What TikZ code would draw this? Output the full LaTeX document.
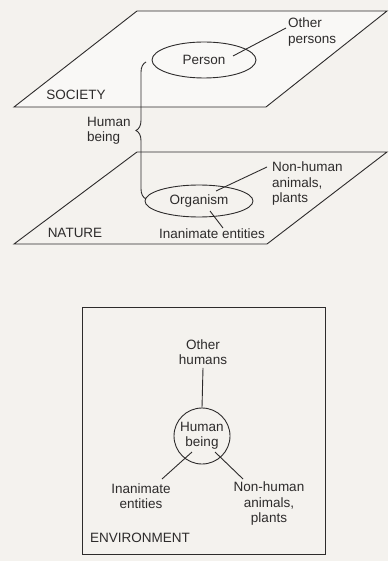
\documentclass[tikz,border=0pt]{standalone}
\usepackage{fontspec}
\setmainfont{Liberation Sans}
\usetikzlibrary{shapes.geometric,decorations.pathreplacing,calc}
\definecolor{bg}{RGB}{244,242,238}
\definecolor{ink}{RGB}{45,43,43}
\tikzset{
  lbl/.style={font=\fontsize{13.5}{15.5}\selectfont, text=ink, inner sep=0pt, align=center},
  lline/.style={draw=ink, line width=0.9pt},
  ell/.style={lbl, draw=ink, line width=0.9pt, ellipse},
  bracebox/.style={draw=ink, line width=0.9pt, decorate, decoration={brace, amplitude=10pt}}
}
\begin{document}
\begin{tikzpicture}[x=1pt,y=-1pt]
\path[use as bounding box, fill=bg] (0,0) rectangle (388,561);

% SOCIETY plane
\coordinate (s1) at (137,11);
\coordinate (s2) at (387,11);
\coordinate (s3) at (266,107);
\coordinate (s4) at (14,107);
\draw[lline, fill=white, fill opacity=0.5] (s1) -- (s2) -- (s3) -- (s4) -- cycle;
\node[lbl] (soc) at (76,95) {SOCIETY};
\node[ell, minimum width=104pt, minimum height=36pt] (person) at (204,60) {Person};
\node[lbl, align=left, anchor=west] (otherp) at (288,32) {Other\\persons};
\coordinate (pend) at (233,56);
\draw[lline] ([xshift=-2pt,yshift=4pt]otherp.west) -- (pend);

% brace
\coordinate (btop) at (146,62);
\coordinate (bbot) at (146,199);
\draw[bracebox] (bbot) -- (btop);
\node[lbl, align=left, anchor=west] (hbeing) at (87,131) {Human\\being};

% NATURE plane
\coordinate (n1) at (137,152);
\coordinate (n2) at (387,152);
\coordinate (n3) at (267,244);
\coordinate (n4) at (14,244);
\draw[lline] (n1) -- (n2) -- (n3) -- (n4) -- cycle;
\node[lbl] (nat) at (75,233) {NATURE};
\node[ell, minimum width=108pt, minimum height=32pt] (org) at (199,201) {Organism};
\node[lbl, align=left, anchor=west] (nonh) at (272,184) {Non-human\\animals,\\plants};
\node[lbl] (inan) at (212,234) {Inanimate entities};
\coordinate (nha) at (267,167);
\coordinate (nhb) at (216,191);
\draw[lline] (nha) -- (nhb);
\coordinate (ina) at (210,211);
\coordinate (inb) at (223,228);
\draw[lline] (ina) -- (inb);

% ENVIRONMENT
\node[draw=ink, line width=0.9pt, minimum width=243pt, minimum height=247pt, inner sep=0pt] (env) at (203.5,430.5) {};
\node[lbl] (envlbl) at (140,538) {ENVIRONMENT};
\node[lbl] (othh) at (203,352) {Other\\humans};
\node[lbl, draw=ink, line width=0.9pt, circle, minimum size=56pt] (hbc) at (202,436) {Human\\being};
\draw[lline] ([yshift=-3pt]othh.south) -- (hbc.north);
\node[lbl] (ie) at (141,496) {Inanimate\\entities};
\node[lbl] (nha2) at (269,504) {Non-human\\animals,\\plants};
\coordinate (iet) at (162,479);
\coordinate (nht) at (243,479);
\draw[lline] ($(hbc.center)+(-10,16)$) -- (iet);
\draw[lline] ($(hbc.center)+(13,16)$) -- (nht);
\end{tikzpicture}
\end{document}
